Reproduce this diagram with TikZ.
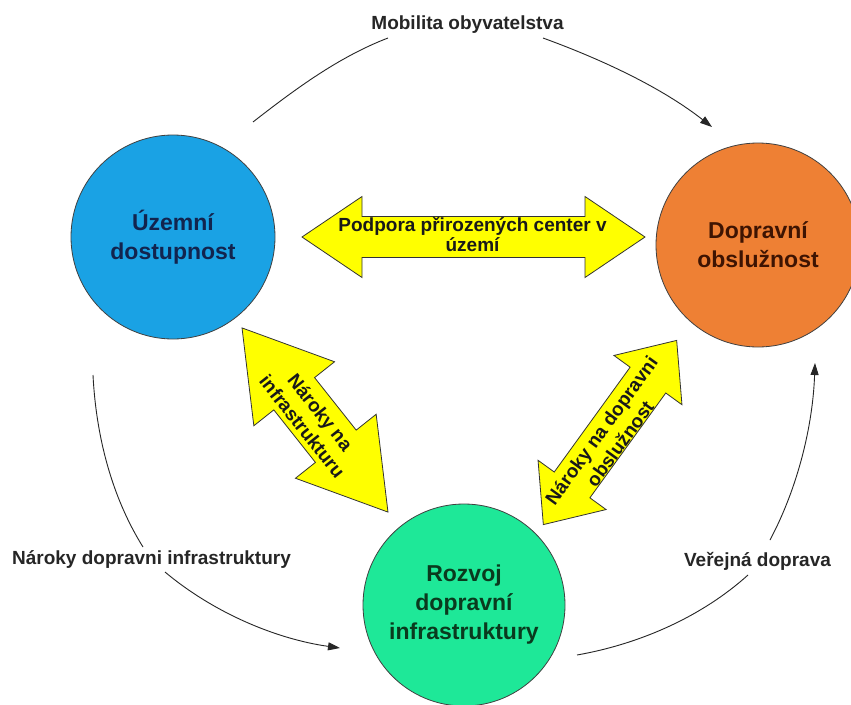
\documentclass[tikz,border=0pt]{standalone}
\usepackage{fontspec}
\setmainfont{Liberation Sans}
\usetikzlibrary{arrows.meta}
\definecolor{cblue}{RGB}{26,162,228}
\definecolor{cbluet}{RGB}{18,36,78}
\definecolor{corange}{RGB}{238,128,52}
\definecolor{coranget}{RGB}{62,20,2}
\definecolor{cgreen}{RGB}{30,232,152}
\definecolor{cgreent}{RGB}{10,58,30}
\definecolor{cyell}{RGB}{255,255,0}
\begin{document}
\begin{tikzpicture}[x=1pt,y=1pt,
  circ/.style={circle, draw=black!75, line width=0.8pt, inner sep=0pt, align=center,
    font=\fontsize{23}{29}\selectfont\bfseries},
  lab/.style={font=\fontsize{19}{21}\selectfont\bfseries, text=black!85, inner sep=1pt},
  yarr/.style={fill=cyell, draw=black!80, line width=0.8pt, line join=miter},
  atext/.style={font=\fontsize{19}{23}\selectfont\bfseries, align=center, inner sep=0pt, text=black!90},
  conn/.style={draw=black!85, line width=0.9pt},
  conarrow/.style={-{Triangle[length=12pt,width=8pt]}}
]
\useasboundingbox (0,0) rectangle (851,-704);
\fill[white] (0,0) rectangle (851,-704);

% circles
\node[circ, fill=cblue, text=cbluet, minimum size=204pt] (uz) at (173,-237) {Územní\\dostupnost};
\node[circ, fill=corange, text=coranget, minimum size=204pt] (dop) at (758,-245) {Dopravní\\obslužnost};
\node[circ, fill=cgreen, text=cgreent, minimum size=202pt] (roz) at (464,-605) {Rozvoj\\dopravní\\infrastruktury};

% horizontal double arrow
\begin{scope}[shift={(473.5,-237)}]
\draw[yarr] (-171.5,0) -- (-111.5,40.5) -- (-111.5,20.5) -- (111.5,20.5) -- (111.5,40.5) -- (171.5,0)
  -- (111.5,-40.5) -- (111.5,-20.5) -- (-111.5,-20.5) -- (-111.5,-40.5) -- cycle;
\end{scope}
\node[atext, font=\fontsize{19}{20}\selectfont\bfseries] (th) at (472.5,-234) {Podpora přirozených center v\\území};

% left diagonal double arrow
\begin{scope}[shift={(315,-420)}, rotate=-51.6]
\draw[yarr] (-117.5,0) -- (-33.5,51.5) -- (-33.5,26) -- (33.5,26) -- (33.5,51.5) -- (117.5,0)
  -- (33.5,-51.5) -- (33.5,-26) -- (-33.5,-26) -- (-33.5,-51.5) -- cycle;
\end{scope}
\node[atext, rotate=-51.6] (tl) at (311.5,-419.2) {Nároky na\\infrastrukturu};

% right diagonal double arrow
\begin{scope}[shift={(610,-432.5)}, rotate=54.1]
\draw[yarr] (-113.7,0) -- (-64.7,42) -- (-64.7,22) -- (64.7,22) -- (64.7,42) -- (113.7,0)
  -- (64.7,-42) -- (64.7,-22) -- (-64.7,-22) -- (-64.7,-42) -- cycle;
\end{scope}
\node[atext, rotate=54.1] (tr) at (610.5,-437) {Nároky na dopravni\\obslužnost};

% curve labels
\node[lab] (lmob) at (467.5,-25) {Mobilita obyvatelstva};
\node[lab] (lnar) at (151.5,-559) {Nároky dopravni infrastruktury};
\node[lab] (lver) at (757.5,-561) {Veřejná doprava};

% curve end points
\coordinate (ta) at (253,-122);
\coordinate (tb) at (388,-38);
\coordinate (tc) at (543,-38);
\coordinate (td) at (712,-127);
\coordinate (la) at (93,-375);
\coordinate (lb) at (143,-547);
\coordinate (lc) at (165,-572);
\coordinate (ld) at (340,-648);
\coordinate (ra) at (577,-655);
\coordinate (rb) at (748,-575);
\coordinate (rc) at (770,-540);
\coordinate (rd) at (815,-363);

% curves
\draw[conn] (ta) .. controls (294.8,-89.4) and (338.5,-57) .. (tb);
\draw[conn, conarrow] (tc) .. controls (603,-59.9) and (661.6,-87.6) .. (td);
\draw[conn] (la) .. controls (96,-435) and (111.2,-496.1) .. (lb);
\draw[conn, conarrow] (lc) .. controls (214,-613.1) and (276.6,-639.1) .. (ld);
\draw[conn] (ra) .. controls (639,-644.1) and (701.2,-617.2) .. (rb);
\draw[conn, conarrow] (rc) .. controls (798.6,-486.1) and (812.9,-424) .. (rd);
\end{tikzpicture}
\end{document}
